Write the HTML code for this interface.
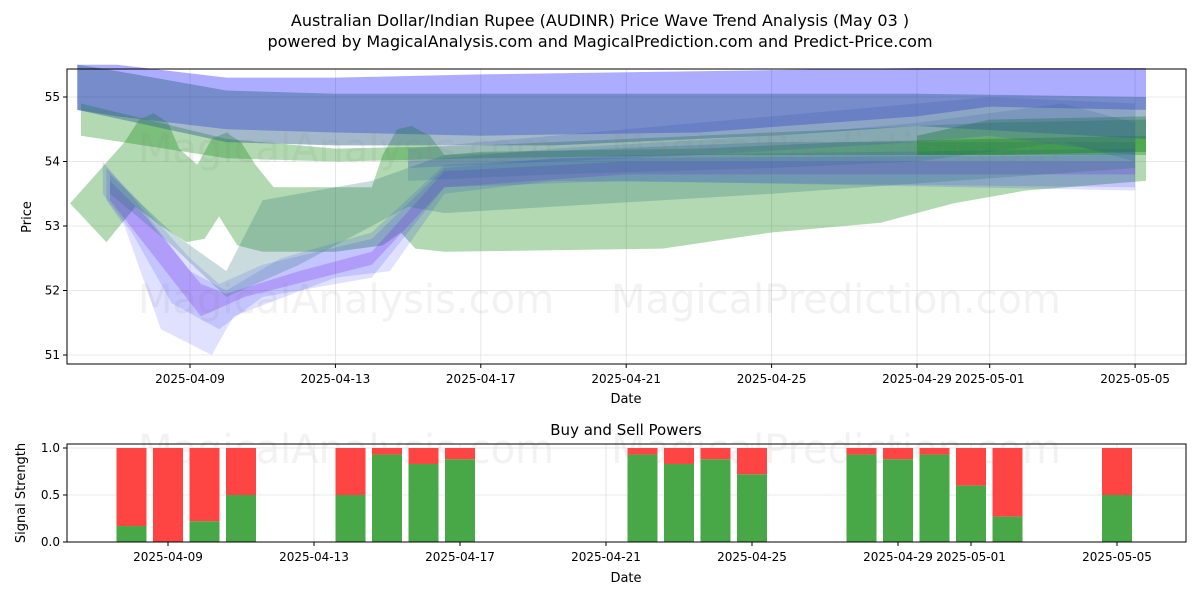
<!DOCTYPE html>
<html><head><meta charset="utf-8"><style>
body{margin:0;background:#fff;font-family:"Liberation Sans","DejaVu Sans",sans-serif}
</style></head><body>
<svg id="c" width="1200" height="600" xmlns="http://www.w3.org/2000/svg" font-family="DejaVu Sans, Liberation Sans, sans-serif">
<rect width="1200" height="600" fill="#fff"/>
<text x="600" y="26" text-anchor="middle" font-size="16">Australian Dollar/Indian Rupee (AUDINR) Price Wave Trend Analysis (May 03 )</text>
<text x="600" y="47" text-anchor="middle" font-size="16">powered by MagicalAnalysis.com and MagicalPrediction.com and Predict-Price.com</text>
<g id="topG"></g>
<g id="botG"></g>
</svg>
<script>
// ---- data ----
const tickDays=[0,4,8,12,16,20,22,26];
const tickLabels=["2025-04-09","2025-04-13","2025-04-17","2025-04-21","2025-04-25","2025-04-29","2025-05-01","2025-05-05"];
const yTicks=[51,52,53,54,55];
const barDays=[-1,0,1,2,5,6,7,8,13,14,15,16,19,20,21,22,23,26];
const buyVals=[0.17,0.0,0.22,0.5,0.5,0.93,0.83,0.88,0.93,0.83,0.88,0.72,0.93,0.88,0.93,0.6,0.27,0.5];
const bandColors=["rgba(0,0,255,0.32)","rgba(0,128,0,0.3)","rgba(0,128,0,0.3)","rgba(0,0,255,0.12)","rgba(0,0,255,0.12)","rgba(110,40,230,0.25)","rgba(40,110,120,0.25)","rgba(40,90,150,0.18)","rgba(0,128,0,0.35)","rgba(60,70,200,0.2)","rgba(50,100,140,0.45)"];
const bandUpDays=[
[-3.1,-2,1,4,8,14,20,22,26.3],
[-3,1,4,8,14,22,26.3],
[-3.3,-1.8,-1.4,-1.0,-0.6,-0.3,0.2,0.6,1.0,1.4,1.8,2.3,5.0,5.3,5.7,6.1,6.6,7.0,8,14,18,22,26.3],
[-2.3,-1.6,0,0.8,2,5,7,10,26],
[-2.4,-1.5,0,1,2.5,5,7,12,26],
[-2.2,-1.3,0.3,1,3,5,7,12,26],
[-2.2,-0.5,1,2,4,5,7,16,26],
[6,10,16,20,24,26],
[20,22,26.3],
[6,14,20,22,26],
[-3.1,-2.5,1,4,10,20,26.3]];
const bandUpVals=[
[55.5,55.5,55.3,55.3,55.35,55.4,55.45,55.45,55.45],
[54.9,54.35,54.2,54.25,54.4,54.6,54.65],
[53.35,54.3,54.65,54.75,54.6,54.2,53.95,54.35,54.45,54.3,53.95,53.6,53.6,54.1,54.5,54.55,54.4,54.1,54.15,54.2,54.3,54.35,54.4],
[53.9,53.5,52.5,52.1,52.4,52.8,53.9,54.05,54.1],
[54.0,53.4,52.3,52.0,52.5,52.9,53.95,54.1,54.2],
[53.7,53.2,52.1,51.95,52.3,52.6,53.85,54.0,54.0],
[53.8,52.9,52.3,53.4,53.6,53.7,54.1,54.3,54.3],
[54.0,54.2,54.4,54.6,54.9,54.6],
[54.4,54.65,54.7],
[54.2,54.6,54.9,55.0,54.9],
[55.5,55.45,55.1,55.05,55.05,55.05,55.0]];
const bandLoDays=[
[-3.1,-2,1,4,8,14,20,22,26.3],
[-3,1,4,8,14,22,26.3],
[-3.3,-2.3,-1.5,-0.8,-0.1,0.4,0.8,1.3,2,4,5.3,5.8,6.2,7,13,16,19,21,23,26.3],
[-2.3,-1.8,-0.8,0.6,1.2,4,5.5,7,10,26],
[-2.4,-1.6,-0.5,0.8,2,5,7,12,26],
[-2.2,-1.5,0.3,1.5,5,7,12,26],
[-2.2,-0.5,1,3,6,7,16,26],
[6,10,16,20,24,26],
[20,22,26.3],
[6,14,20,22,26],
[-3.1,1,4,10,16,20,26.3]];
const bandLoVals=[
[54.8,54.7,54.5,54.45,54.4,54.45,54.7,54.85,54.8],
[54.4,54.05,54.0,54.05,54.1,54.1,54.1],
[53.35,52.75,53.3,53.0,52.75,52.8,53.15,52.7,52.6,52.6,52.7,52.9,52.65,52.6,52.65,52.9,53.05,53.35,53.55,53.7],
[53.4,53.0,51.4,51.0,51.6,52.2,52.3,53.5,53.7,53.6],
[53.5,52.9,51.8,51.4,51.9,52.2,53.6,53.7,53.55],
[53.4,52.9,51.6,51.9,52.4,53.6,53.8,53.8],
[53.5,52.7,51.9,52.4,53.3,53.2,53.5,53.9],
[53.7,53.8,53.9,54.0,54.3,54.0],
[54.1,54.1,54.15],
[53.9,54.1,54.3,54.4,54.1],
[54.8,54.3,54.25,54.25,54.4,54.55,54.35]];
// ---- axes ----
const NS="http://www.w3.org/2000/svg";
const T={x0:67,x1:1186,y0:69,y1:364};
const B={x0:67,x1:1186,y0:444,y1:542};
const xT=d=>190+d*36.35;
const yT=v=>97+(55-v)*64.5;
const xB=d=>168+d*36.5;
const yB=v=>542-v*94;
function el(p,t,a){const e=document.createElementNS(NS,t);for(const k in a)e.setAttribute(k,a[k]);p.appendChild(e);return e;}
const gTop=document.getElementById('topG'),gBot=document.getElementById('botG');
tickDays.forEach((d,i)=>{
 const g=el(gTop,'line',{x1:xT(d),x2:xT(d),y1:T.y0,y2:T.y1,stroke:'#e0e0e0','stroke-width':0.8});
 
 
 const g2=el(gBot,'line',{x1:xB(d),x2:xB(d),y1:B.y0,y2:B.y1,stroke:'#e0e0e0','stroke-width':0.8});
 
 
});
yTicks.forEach(v=>{
 const g=el(gTop,'line',{x1:T.x0,x2:T.x1,y1:yT(v),y2:yT(v),stroke:'#e0e0e0','stroke-width':0.8});
 
 
});
[0,0.5,1].forEach(v=>{
 const g=el(gBot,'line',{x1:B.x0,x2:B.x1,y1:yB(v),y2:yB(v),stroke:'#e0e0e0','stroke-width':0.8});
 
 
});
bandColors.forEach((c,i)=>{
 const pts=[];
 bandUpDays[i].forEach((d,j)=>pts.push(xT(d)+','+yT(bandUpVals[i][j])));
 for(let j=bandLoDays[i].length-1;j>=0;j--)pts.push(xT(bandLoDays[i][j])+','+yT(bandLoVals[i][j]));
 const p=el(gTop,'polygon',{points:pts.join(' '),fill:c});
 
 
});
[[346,162,'MagicalAnalysis.com'],[836,162,'MagicalPrediction.com'],[346,313,'MagicalAnalysis.com'],[836,313,'MagicalPrediction.com'],[346,463,'MagicalAnalysis.com'],[836,463,'MagicalPrediction.com']].forEach(w=>{
 const t=el(gTop,'text',{x:w[0],y:w[1],'text-anchor':'middle','font-size':40,fill:'rgba(128,128,128,0.1)'});
 t.textContent=w[2];
 
 
});
barDays.forEach((d,i)=>{
 const x=xB(d)-15,b=buyVals[i];
 const r=el(gBot,'rect',{x:x,y:yB(1),width:30,height:yB(b)-yB(1),fill:'#ff4444'});
 
 
 const g=el(gBot,'rect',{x:x,y:yB(b),width:30,height:yB(0)-yB(b),fill:'#48a848'});
 
 
});
const f1=el(gTop,'rect',{x:T.x0,y:T.y0,width:T.x1-T.x0,height:T.y1-T.y0,fill:'none',stroke:'#000','stroke-width':1});


const f2=el(gBot,'rect',{x:B.x0,y:B.y0,width:B.x1-B.x0,height:B.y1-B.y0,fill:'none',stroke:'#000','stroke-width':1});


tickDays.forEach((d,i)=>{
 el(gTop,'line',{x1:xT(d),x2:xT(d),y1:T.y1,y2:T.y1+4,stroke:'#000'});
 const t=el(gTop,'text',{x:xT(d),y:T.y1+19,'text-anchor':'middle','font-size':12});
 t.textContent=tickLabels[i];
 
 
 el(gBot,'line',{x1:xB(d),x2:xB(d),y1:B.y1,y2:B.y1+4,stroke:'#000'});
 const t2=el(gBot,'text',{x:xB(d),y:B.y1+19,'text-anchor':'middle','font-size':12});
 t2.textContent=tickLabels[i];
 
 
});
yTicks.forEach(v=>{
 el(gTop,'line',{x1:T.x0-4,x2:T.x0,y1:yT(v),y2:yT(v),stroke:'#000'});
 const t=el(gTop,'text',{x:T.x0-7,y:yT(v)+4,'text-anchor':'end','font-size':12});
 t.textContent=v;
 
 
});
[[0,'0.0'],[0.5,'0.5'],[1,'1.0']].forEach(v=>{
 el(gBot,'line',{x1:B.x0-4,x2:B.x0,y1:yB(v[0]),y2:yB(v[0]),stroke:'#000'});
 const t=el(gBot,'text',{x:B.x0-7,y:yB(v[0])+4,'text-anchor':'end','font-size':12});
 t.textContent=v[1];
 
 
});
function lab(p,x,y,s,txt,name,rot){const t=el(p,'text',{x:x,y:y,'text-anchor':'middle','font-size':s});if(rot)t.setAttribute('transform','rotate(-90 '+x+' '+y+')');t.textContent=txt;}
lab(gTop,626,403,13,'Date','x-axis-title');
lab(gTop,31,217,13,'Price','y-axis-title',true);
lab(gBot,626,435,15,'Buy and Sell Powers','signal-title');
lab(gBot,626,582,13,'Date','x-axis-title');
lab(gBot,25,493,13,'Signal Strength','y-axis-title',true);
</script>
</body></html>
